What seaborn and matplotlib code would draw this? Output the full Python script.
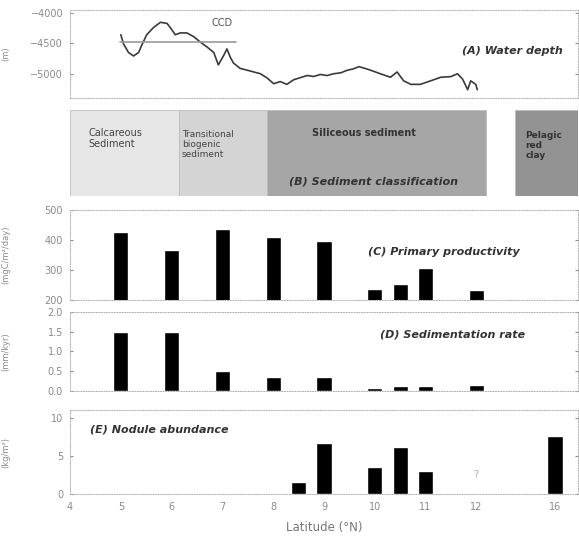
import numpy as np
import matplotlib
matplotlib.use('Agg')
import matplotlib.pyplot as plt
import seaborn as sns

sns.set_style('white')
plt.rcParams['font.family'] = ['DejaVu Sans']

# ==========================================
# DATA
# ==========================================
# (A) water depth profile along the transect
depth_lat = [5.0, 5.05, 5.15, 5.25, 5.35, 5.41, 5.51, 5.64, 5.78, 5.91, 6.0, 6.07, 6.17, 6.3,
             6.43, 6.56, 6.7, 6.83, 6.92, 7.02, 7.09, 7.16, 7.22, 7.35, 7.49, 7.62, 7.75, 7.88,
             8.01, 8.14, 8.27, 8.4, 8.55, 8.67, 8.8, 8.93, 9.06, 9.19, 9.33, 9.46, 9.58, 9.69,
             9.8, 9.92, 10.11, 10.31, 10.44, 10.57, 10.71, 10.9, 11.1, 11.3, 11.5, 11.63, 11.73,
             11.83, 11.89, 11.99, 12.02]
depth_m = [-4357, -4503, -4649, -4707, -4649, -4532, -4357, -4240, -4152, -4170, -4269, -4357,
           -4327, -4327, -4386, -4474, -4561, -4649, -4854, -4707, -4591, -4737, -4825, -4912,
           -4942, -4971, -5000, -5070, -5164, -5129, -5175, -5100, -5060, -5029, -5045, -5012,
           -5030, -5000, -4985, -4942, -4920, -4883, -4910, -4942, -5000, -5058, -4971, -5117,
           -5175, -5175, -5117, -5058, -5047, -5000, -5088, -5263, -5117, -5175, -5263]
ccd_lat = [4.99, 7.27]
ccd_depth = [-4480, -4480]

# (B) sediment classification zones (start, end latitude)
zone_names = ['Calcareous\nSediment', 'Transitional\nbiogenic\nsediment',
              'Siliceous sediment', 'Pelagic\nred\nclay']
zone_start = [4.0, 6.15, 7.87, 12.77]
zone_end = [6.15, 7.87, 12.19, 14.0]
zone_colors = ['#e6e6e6', '#d4d4d4', '#a6a6a6', '#939393']

# (C) primary productivity and (D) sedimentation rate
site_lat = [5, 6, 7, 8, 9, 10, 10.5, 11, 12]
productivity = [426, 366, 435, 411, 396, 237, 252, 306, 234]
sed_rate = [1.5, 1.5, 0.5, 0.35, 0.35, 0.08, 0.12, 0.12, 0.15]

# (E) nodule abundance (16 N is drawn on a broken axis position)
nodule_lat = [8.5, 9, 10, 10.5, 11, 13.55]
nodule_abund = [1.6, 6.7, 3.6, 6.2, 3.0, 7.6]

xtick_pos = [4, 5, 6, 7, 8, 9, 10, 11, 12, 13.55]
xtick_labels = ['4', '5', '6', '7', '8', '9', '10', '11', '12', '16']

# ==========================================
# FIGURE
# ==========================================
fig = plt.figure(figsize=(5.79, 5.43), dpi=100)
L, W = 0.121, 0.877
ax_a = fig.add_axes([L, 0.8195, W, 0.162])
ax_b = fig.add_axes([L, 0.639, W, 0.158])
ax_c = fig.add_axes([L, 0.4475, W, 0.166])
ax_d = fig.add_axes([L, 0.280, W, 0.1455])
ax_e = fig.add_axes([L, 0.090, W, 0.1547])

tick_col = '#8a8a8a'
title_kw = dict(fontsize=8, fontweight='bold', style='italic', color='#333333')


def style_axis(ax, ylabel):
    for s in ax.spines.values():
        s.set_color('#b0b0b0')
        s.set_linewidth(0.7)
        s.set_linestyle(':')
    ax.tick_params(axis='y', direction='in', length=2, labelsize=7,
                   colors=tick_col, right=True, left=True, pad=5)
    ax.set_xlim(4, 14)
    ax.set_xlabel('')
    ax.set_ylabel(ylabel, fontsize=6, color=tick_col)
    ax.yaxis.set_label_coords(-0.118, 0.5)


# (A) Water depth
sns.lineplot(x=depth_lat, y=depth_m, ax=ax_a, color='#3a3a3a', linewidth=1.2)
ax_a.plot(ccd_lat, ccd_depth, color='#9a9a9a', linewidth=1.2)
ax_a.text(7.0, -4170, 'CCD', fontsize=7, color='#555555', ha='center', va='center')
ax_a.text(13.7, -4620, '(A) Water depth', ha='right', va='center', **title_kw)
style_axis(ax_a, '(m)')
ax_a.set_ylim(-5400, -3950)
ax_a.set_yticks([-4000, -4500, -5000])
ax_a.set_xticks([])

# (B) Sediment classification
for name, x0, x1, col in zip(zone_names, zone_start, zone_end, zone_colors):
    ax_b.axvspan(x0, x1, ymin=0, ymax=1, facecolor=col, edgecolor='#bdbdbd', linewidth=0.6)
ax_b.text(4.36, 0.67, zone_names[0], fontsize=7, color='#444444', ha='left', va='center')
ax_b.text(6.2, 0.6, zone_names[1], fontsize=6.5, color='#444444', ha='left', va='center')
ax_b.text(9.78, 0.74, zone_names[2], fontsize=7, color='#333333', ha='center', va='center',
          fontweight='bold')
ax_b.text(12.97, 0.59, zone_names[3], fontsize=6.5, color='#333333', ha='left', va='center',
          fontweight='bold')
ax_b.text(9.98, 0.17, '(B) Sediment classification', ha='center', va='center', **title_kw)
ax_b.set_xlim(4, 14)
ax_b.set_ylim(0, 1)
ax_b.axis('off')

# (C) Primary productivity
sns.barplot(x=site_lat, y=productivity, ax=ax_c, native_scale=True, color='black',
            width=0.6, saturation=1)
style_axis(ax_c, '(mgC/m²/day)')
ax_c.set_ylim(200, 500)
ax_c.set_yticks([200, 300, 400, 500])
ax_c.set_xticks([])
ax_c.text(9.86, 360, '(C) Primary productivity', ha='left', va='center', **title_kw)

# (D) Sedimentation rate
sns.barplot(x=site_lat, y=sed_rate, ax=ax_d, native_scale=True, color='black',
            width=0.6, saturation=1)
style_axis(ax_d, '(mm/kyr)')
ax_d.set_ylim(0, 2.0)
ax_d.set_yticks([0.0, 0.5, 1.0, 1.5, 2.0])
ax_d.set_yticklabels(['0.0', '0.5', '1.0', '1.5', '2.0'])
ax_d.set_xticks([])
ax_d.text(10.1, 1.43, '(D) Sedimentation rate', ha='left', va='center', **title_kw)

# (E) Nodule abundance
sns.barplot(x=nodule_lat, y=nodule_abund, ax=ax_e, native_scale=True, color='black',
            width=0.6, saturation=1)
style_axis(ax_e, '(kg/m²)')
ax_e.set_ylim(0, 11)
ax_e.set_yticks([0, 5, 10])
ax_e.set_xticks(xtick_pos)
ax_e.set_xticklabels(xtick_labels)
ax_e.tick_params(axis='x', direction='in', length=2, labelsize=7, colors=tick_col, pad=6)
ax_e.set_xlim(4, 14)
ax_e.set_xlabel('Latitude (°N)', fontsize=8.5, color='#777777', labelpad=6)
ax_e.text(4.39, 8.4, '(E) Nodule abundance', ha='left', va='center', **title_kw)
ax_e.text(12.0, 2.5, '?', ha='center', va='center', fontsize=7, color='#aaaaaa')

fig.savefig('out.png', dpi=100)
